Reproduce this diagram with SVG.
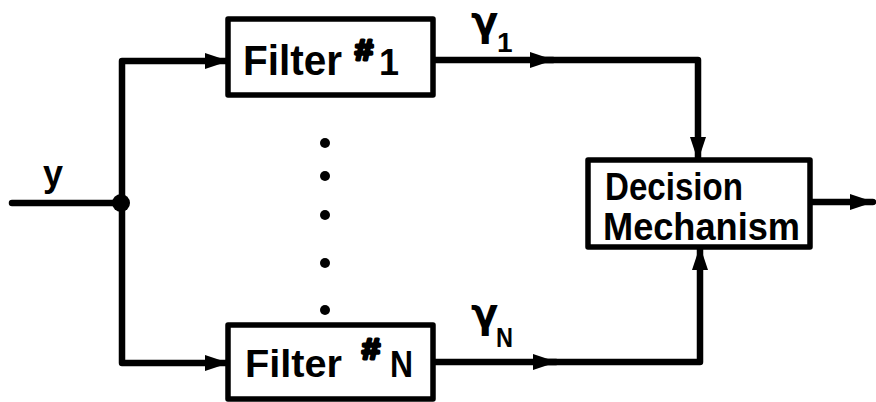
<svg xmlns="http://www.w3.org/2000/svg" width="876" height="402" viewBox="0 0 876 402">
<style>
.box{fill:#fff;stroke:#000;stroke-width:5.5;stroke-linejoin:round}
.ln{fill:none;stroke:#000;stroke-width:6.5;stroke-linejoin:round;stroke-linecap:round}
.t{font-family:"Liberation Sans",Arial,sans-serif;font-weight:bold;fill:#000}
.h{font-family:"Liberation Sans",Arial,sans-serif;font-weight:bold;fill:#000;stroke:#000;stroke-width:3;stroke-linejoin:round}
.g{font-family:"DejaVu Sans",sans-serif;font-weight:bold;fill:#000}
</style>
<defs>
<marker id="ah" markerUnits="userSpaceOnUse" markerWidth="24" markerHeight="18" viewBox="0 0 24 18" refX="23" refY="9" orient="auto">
<path d="M0,1 L24,9 L0,17 z" fill="#000"/>
</marker>
</defs>
<rect width="876" height="402" fill="#fff"/>
<g id="connectors">
<path class="ln" d="M12,203 L122,203"/>
<path class="ln" d="M122,203 L122,61 L228,61" marker-end="url(#ah)"/>
<path class="ln" d="M122,203 L122,363 L228,363" marker-end="url(#ah)"/>
<circle cx="121" cy="203" r="9" fill="#000"/>
<path class="ln" d="M433,60 L553,60" marker-end="url(#ah)"/>
<path class="ln" d="M540,60 L698,60 L698,160" marker-end="url(#ah)"/>
<path class="ln" d="M433,362 L556,362" marker-end="url(#ah)"/>
<path class="ln" d="M540,362 L700,362 L700,247" marker-end="url(#ah)"/>
<path class="ln" d="M810,202 L873,202" marker-end="url(#ah)"/>
</g>
<g id="label-y"><text class="t" x="43" y="186" font-size="36">y</text></g>
<g id="filter1">
<rect class="box" x="228" y="19" width="205" height="76"/>
<text class="t" x="243" y="75" font-size="42" textLength="99" lengthAdjust="spacingAndGlyphs">Filter</text>
<text class="h" x="355" y="60" font-size="30" textLength="18" lengthAdjust="spacingAndGlyphs">#</text>
<text class="t" x="379" y="75" font-size="36">1</text>
</g>
<g id="dots">
<circle cx="325" cy="143" r="5"/>
<circle cx="325" cy="176" r="5"/>
<circle cx="325" cy="215" r="5"/>
<circle cx="325" cy="263" r="5"/>
<circle cx="325" cy="310" r="5"/>
</g>
<g id="filterN">
<rect class="box" x="228" y="325" width="205" height="74"/>
<text class="t" x="245" y="377" font-size="38" textLength="97" lengthAdjust="spacingAndGlyphs">Filter</text>
<text class="h" x="362" y="359" font-size="30" textLength="18" lengthAdjust="spacingAndGlyphs">#</text>
<text class="t" x="390" y="377" font-size="36" textLength="23" lengthAdjust="spacingAndGlyphs">N</text>
</g>
<g id="label-gamma1">
<text class="g" x="471" y="35" font-size="40">γ</text>
<text class="t" x="497" y="52" font-size="28">1</text>
</g>
<g id="label-gammaN">
<text class="g" x="471" y="327" font-size="40">γ</text>
<text class="t" x="496" y="347" font-size="28" textLength="17" lengthAdjust="spacingAndGlyphs">N</text>
</g>
<g id="decision">
<rect class="box" x="588" y="160" width="222" height="87"/>
<text class="t" x="605" y="200" font-size="39" textLength="138" lengthAdjust="spacingAndGlyphs">Decision</text>
<text class="t" x="603" y="240" font-size="39" textLength="197" lengthAdjust="spacingAndGlyphs">Mechanism</text>
</g>
</svg>
